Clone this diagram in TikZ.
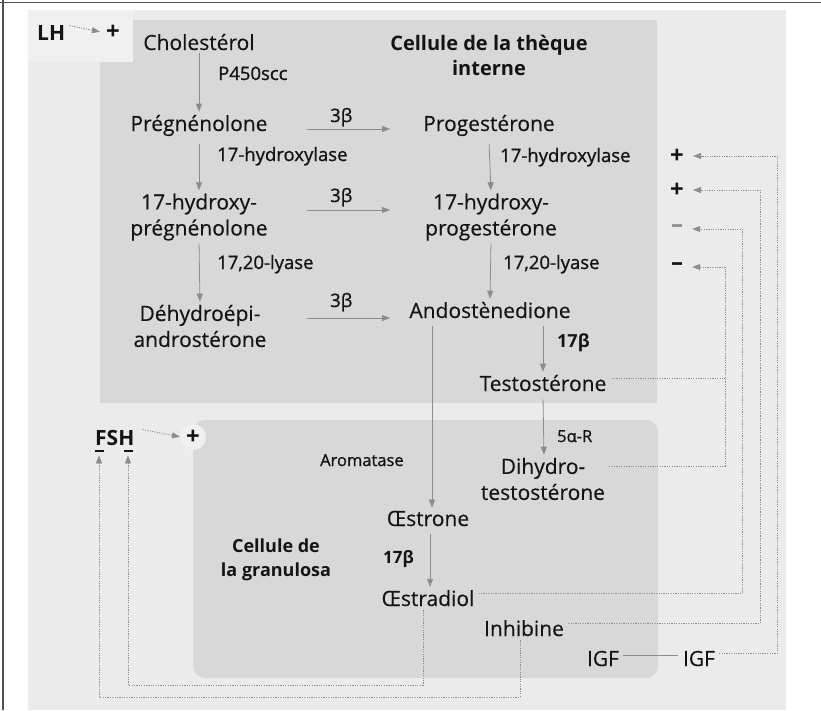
\documentclass[tikz,border=0pt]{standalone}
\usepackage{fontspec}
\setmainfont{Open Sans}
\usetikzlibrary{arrows.meta,calc}
\definecolor{bgc}{RGB}{235,235,235}
\definecolor{boxc}{RGB}{216,216,216}
\definecolor{patchc}{RGB}{240,240,240}
\definecolor{linec}{RGB}{140,140,140}
\definecolor{framec}{RGB}{80,80,80}
\definecolor{txtc}{RGB}{20,20,20}
\begin{document}
\begin{tikzpicture}[x=1pt,y=-1pt,
  txt/.style={font=\fontsize{21}{26}\selectfont\addfontfeature{FakeBold=0.3}, text=txtc, inner sep=0pt, align=center},
  lbl/.style={font=\fontsize{18.5}{22}\selectfont\addfontfeature{FakeBold=1}, text=txtc, inner sep=0pt, anchor=base west},
  slbl/.style={font=\fontsize{16.5}{20}\selectfont\addfontfeature{FakeBold=1}, text=txtc, inner sep=0pt, anchor=base west},
  ttl/.style={font=\bfseries\fontsize{20}{25}\selectfont, text=txtc, inner sep=0pt, align=center},
  sttl/.style={font=\bfseries\fontsize{18}{24}\selectfont, text=txtc, inner sep=0pt, align=center},
  sign/.style={font=\bfseries\fontsize{24}{26}\selectfont, text=txtc, inner sep=0pt},
  hlbl/.style={font=\bfseries\fontsize{21}{24}\selectfont, text=txtc, inner sep=0pt, anchor=base west},
  bar/.style={fill=txtc, minimum width=9pt, minimum height=2.4pt, inner sep=0pt},
  pathw/.style={draw=linec, line width=0.8pt, -{Triangle[length=8pt,width=6pt]}, shorten <=3pt, shorten >=3pt},
  fb/.style={draw=linec, line width=0.8pt, dash pattern=on 1.2pt off 1.2pt},
  fbarrow/.style={fb, -{Triangle[length=8pt,width=6pt]}},
]
\useasboundingbox (0,0) rectangle (821,710);
\fill[white] (0,0) rectangle (821,710);
\fill[bgc] (28,10) rectangle (786,710);
% theca cell box
\fill[boxc] (100,20) rectangle (657,403);
\fill[patchc] (28,10) rectangle (133,62);
% granulosa cell box
\fill[boxc, rounded corners=12pt] (193,420) rectangle (658,678);
\fill[patchc] (193,437) circle (13);
% frame
\draw[framec, line width=1.6pt] (0,2.5) -- (821,2.5);
\draw[framec, line width=1.6pt] (3,0) -- (3,710);

% titles
\node[ttl] (theque) at (489,55) {Cellule de la thèque\\interne};
\node[sttl] (granu) at (276,560) {Cellule de\\la granulosa};

% hormones
\node[hlbl] (lh) at (37,40) {LH};
\node[sign] (lhplus) at (113,32) {+};
\node[hlbl] (fsh) at (95,445) {FSH};
\node[sign] (fshplus) at (193,437) {+};
\node[bar] (minF) at (99,451) {};
\node[bar] (minH) at (128,451) {};

% molecules
\node[txt, anchor=base] (chol) at (199,50) {Cholestérol};
\node[txt, anchor=base] (preg) at (199,131) {Prégnénolone};
\node[txt, anchor=base] (prog) at (489,131) {Progestérone};
\node[txt] (ohpreg) at (199,217) {17-hydroxy-\\prégnénolone};
\node[txt] (ohprog) at (491,217) {17-hydroxy-\\progestérone};
\node[txt] (dhea) at (200,326) {Déhydroépi-\\androstérone};
\node[txt, anchor=base] (andro) at (490,318) {Andostènedione};
\node[txt, anchor=base] (testo) at (543,391) {Testostérone};
\node[txt] (dht) at (543,479) {Dihydro-\\testostérone};
\node[txt, anchor=base] (oe1) at (428,526) {Œstrone};
\node[txt, anchor=base] (oe2) at (428,606) {Œstradiol};
\node[txt, anchor=base] (inhib) at (524,636) {Inhibine};
\node[txt, anchor=base] (igf1) at (603,666) {IGF};
\node[txt, anchor=base] (igf2) at (699,666) {IGF};

% enzyme labels
\node[lbl] (p450) at (218,80) {P450scc};
\node[lbl] (b1) at (330,122) {3β};
\node[lbl] (b2) at (330,202) {3β};
\node[lbl] (b3) at (330,307) {3β};
\node[lbl] (hydl) at (217,161) {17-hydroxylase};
\node[lbl] (hydr) at (500,162) {17-hydroxylase};
\node[lbl] (lyl) at (217,269) {17,20-lyase};
\node[lbl] (lyr) at (503,269) {17,20-lyase};
\node[lbl, font=\bfseries\fontsize{18}{22}\selectfont] (b17a) at (557,347) {17β};
\node[slbl] (red) at (557,442) {5α-R};
\node[slbl] (arom) at (320,466) {Aromatase};
\node[lbl, font=\bfseries\fontsize{17}{22}\selectfont] (b17b) at (383,563) {17β};

% signs on the right
\node[sign] (s1) at (677,156) {+};
\node[sign] (s2) at (677,190) {+};
\node[sign, text=linec] (s3) at (677,229) {–};
\node[sign] (s4) at (677,267) {–};

% pathway arrows
\draw[pathw] (chol.south) -- (preg.north);
\draw[pathw] ([yshift=-5pt]preg.south) -- (ohpreg.north);
\draw[pathw] (ohpreg.south) -- (dhea.north);
\draw[pathw] ([yshift=-5pt]prog.south) -- (ohprog.north);
\draw[pathw] (ohprog.south) -- (andro.north);
\draw[pathw] ([yshift=-5pt]andro.south -| testo) -- (testo.north);
\draw[pathw] ([yshift=-5pt]testo.south) -- ([xshift=1pt]dht.north);
\draw[pathw] ([xshift=-58pt,yshift=-5pt]andro.south) -- ([xshift=4pt]oe1.north);
\draw[pathw] ([xshift=2pt,yshift=-5pt]oe1.south) -- ([xshift=2pt]oe2.north);
\coordinate (f1) at (307,129);
\coordinate (f2) at (307,210);
\coordinate (f3) at (307,318);
\coordinate (e1) at (390,129);
\coordinate (e2) at (390,210);
\coordinate (e3) at (390,318);
\draw[pathw, shorten <=0pt, shorten >=0pt] (f1) -- (e1);
\draw[pathw, shorten <=0pt, shorten >=0pt] (f2) -- (e2);
\draw[pathw, shorten <=0pt, shorten >=0pt] (f3) -- (e3);

% LH and FSH arrows
\draw[fbarrow, shorten >=1pt] ([xshift=4pt,yshift=7pt]lh.east) -- ([xshift=-5pt]lhplus.west);
\draw[fbarrow, shorten >=1pt] ([xshift=8pt,yshift=8pt]fsh.east) -- ([xshift=-5pt]fshplus.west);

% feedback lines
\coordinate (r1) at (777,156);
\coordinate (r2) at (760,190);
\coordinate (r3) at (742,229);
\coordinate (r4) at (725,267);
\draw[fbarrow, shorten >=9pt] ([xshift=4pt,yshift=5pt]igf2.east) -| (r1) -- (s1.east);
\draw[fbarrow, shorten >=9pt] ([xshift=4pt,yshift=5pt]inhib.east) -| (r2) -- (s2.east);
\draw[fbarrow, shorten >=9pt] ([xshift=4pt,yshift=5pt]oe2.east) -| (r3) -- (s3.east);
\draw[fbarrow, shorten >=9pt] ([xshift=4pt,yshift=13pt]dht.east) -| (r4) -- (s4.east);
\draw[fb] ([xshift=5pt,yshift=5pt]testo.east) -- ([yshift=5pt]testo.east -| r4);
\draw[draw=linec, line width=0.8pt] ([xshift=4pt,yshift=3pt]igf1.east) -- ([xshift=-5pt,yshift=3pt]igf2.west);

% loops to FSH
\coordinate (l1) at (423,685);
\coordinate (l2) at (520,697);
\draw[fbarrow, shorten <=4pt, shorten >=3pt] ([xshift=-5pt]oe2.south) -- (l1) -| (minH.south);
\draw[fbarrow, shorten <=4pt, shorten >=3pt] ([xshift=-4pt]inhib.south) -- (l2) -| (minF.south);
\end{tikzpicture}
\end{document}
